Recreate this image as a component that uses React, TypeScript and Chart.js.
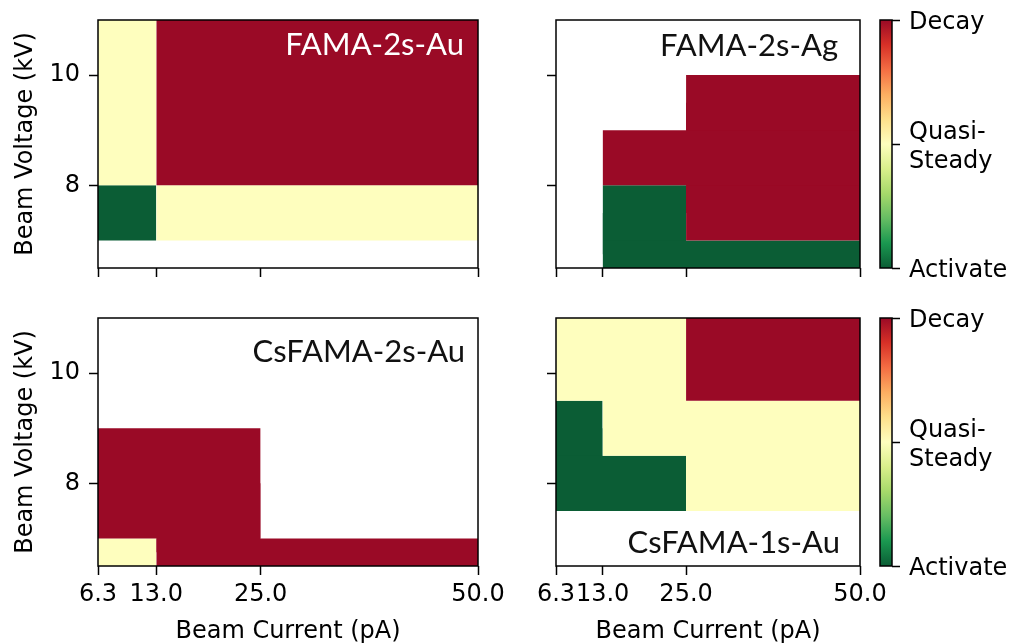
import React, { useEffect, useRef } from 'react';
import { Chart, registerables } from 'chart.js';

Chart.register(...registerables);

// ---------- data ----------
const CURRENT_EDGES = [6.3, 13.0, 25.0, 50.0]; // beam current bin edges (pA)
const CURRENT_TICKS = [6.3, 13.0, 25.0, 50.0];
const VOLTAGE_TICKS = [8, 10];
const VOLTAGE_MIN = 6.5;
const VOLTAGE_MAX = 11;

// state codes: 1 = Decay, 0 = Quasi-Steady, -1 = Activate, null = no data
const STATE_VALUES = [-1, 0, 1];
const STATE_TICK_LABELS = ['Activate', ['Quasi-', 'Steady'], 'Decay'];

// FAMA-2s-Au : voltage rows [low, high] and states per current bin
const FAMA_2S_AU_ROWS = [[8, 11], [7, 8]];
const FAMA_2S_AU_STATES = [[0, 1, 1], [-1, 0, 0]];

// FAMA-2s-Ag
const FAMA_2S_AG_ROWS = [[9, 10], [8, 9], [7, 8], [6.5, 7]];
const FAMA_2S_AG_STATES = [[null, null, 1], [null, 1, 1], [null, -1, 1], [null, -1, -1]];

// CsFAMA-2s-Au
const CSFAMA_2S_AU_ROWS = [[7, 9], [6.5, 7]];
const CSFAMA_2S_AU_STATES = [[1, 1, null], [0, 1, 1]];

// CsFAMA-1s-Au
const CSFAMA_1S_AU_ROWS = [[9.5, 11], [8.5, 9.5], [7.5, 8.5]];
const CSFAMA_1S_AU_STATES = [[0, 0, 1], [-1, 0, 0], [-1, -1, 0]];

// ---------- styles ----------
const STATE_COLORS: Record<string, string> = {
  '-1': '#0b5d35',
  '0': '#fefebe',
  '1': '#9a0a26',
};
const CMAP_STOPS = [
  '#0b5d35', '#1a9850', '#66bd63', '#a6d96a', '#d9ef8b', '#fefebe',
  '#fee08b', '#fdae61', '#f46d43', '#d73027', '#9a0a26',
];

Chart.defaults.font.family = "'DejaVu Sans', sans-serif";
Chart.defaults.font.size = 24;
Chart.defaults.color = '#000';

const framePlugin = {
  id: 'frame',
  afterDraw(chart: any) {
    const { ctx, chartArea: a } = chart;
    ctx.save();
    ctx.strokeStyle = '#000';
    ctx.lineWidth = 1.5;
    ctx.strokeRect(a.left, a.top, a.right - a.left, a.bottom - a.top);
    ctx.restore();
  },
};

function rectDataset(x0: number, x1: number, y0: number, y1: number, s: number) {
  return {
    data: [
      { x: x0, y: y1 },
      { x: x1, y: y1 },
    ],
    fill: { value: y0 },
    backgroundColor: STATE_COLORS[String(s)],
    borderColor: 'rgba(0,0,0,0)',
    borderWidth: 0,
    pointRadius: 0,
    tension: 0,
  };
}

// Cells are drawn as horizontal runs of equal state; where two same-state
// cells sit on top of each other, a patch spanning the middles of both
// rows covers their shared edge so no seam shows.
function buildCellDatasets(rows: number[][], states: (number | null)[][]) {
  const ds: any[] = [];
  rows.forEach((row, r) => {
    const st = states[r];
    let i = 0;
    while (i < st.length) {
      const s = st[i];
      let j = i;
      while (j + 1 < st.length && st[j + 1] === s) j++;
      if (s !== null) ds.push(rectDataset(CURRENT_EDGES[i], CURRENT_EDGES[j + 1], row[0], row[1], s));
      i = j + 1;
    }
  });
  for (let r = 0; r + 1 < rows.length; r++) {
    if (rows[r][0] !== rows[r + 1][1]) continue;
    const midUpper = (rows[r][0] + rows[r][1]) / 2;
    const midLower = (rows[r + 1][0] + rows[r + 1][1]) / 2;
    states[r].forEach((s, i) => {
      if (s !== null && states[r + 1][i] === s) {
        ds.push(rectDataset(CURRENT_EDGES[i], CURRENT_EDGES[i + 1], midLower, midUpper, s));
      }
    });
  }
  return ds;
}

type PanelProps = {
  label: string;
  labelColor: string;
  labelPos: [number, number]; // axes fraction: right edge, baseline from bottom
  rows: number[][];
  states: (number | null)[][];
  showX: boolean;
  showY: boolean;
  left: number;
  top: number;
  width: number;
  height: number;
  padTop: number;
  padRight: number;
  yAxisWidth: number;
  xAxisHeight: number;
};

function Panel(p: PanelProps) {
  const ref = useRef<HTMLCanvasElement>(null);
  useEffect(() => {
    const labelPlugin = {
      id: 'panelLabel',
      afterDraw(chart: any) {
        const { ctx, chartArea: a } = chart;
        ctx.save();
        ctx.font = "31px Lato, 'Noto Sans', sans-serif";
        ctx.fillStyle = p.labelColor;
        ctx.textAlign = 'right';
        ctx.textBaseline = 'alphabetic';
        const x = a.left + p.labelPos[0] * (a.right - a.left);
        const y = a.bottom - p.labelPos[1] * (a.bottom - a.top);
        ctx.fillText(p.label, x, y);
        ctx.restore();
      },
    };
    const chart = new Chart(ref.current!, {
      type: 'line',
      data: { datasets: buildCellDatasets(p.rows, p.states) },
      plugins: [framePlugin, labelPlugin],
      options: {
        responsive: false,
        animation: false,
        events: [],
        layout: { padding: { top: p.padTop, right: p.padRight, left: 0, bottom: 0 } },
        plugins: { legend: { display: false }, tooltip: { enabled: false } },
        scales: {
          x: {
            type: 'linear',
            bounds: 'data',
            min: CURRENT_EDGES[0],
            max: CURRENT_EDGES[CURRENT_EDGES.length - 1],
            afterBuildTicks: (s: any) => {
              s.ticks = CURRENT_TICKS.map((v) => ({ value: v }));
            },
            afterFit: (s: any) => {
              s.height = p.xAxisHeight;
            },
            ticks: {
              display: p.showX,
              autoSkip: false,
              maxRotation: 0,
              minRotation: 0,
              padding: 5,
              color: '#000',
              font: { size: 24 },
              callback: (v: any) => Number(v).toFixed(1),
            },
            grid: {
              display: true,
              drawOnChartArea: false,
              drawTicks: true,
              tickLength: 9,
              tickWidth: 1.5,
              tickColor: '#000',
            },
            border: { display: false },
            title: {
              display: p.showX,
              text: 'Beam Current (pA)',
              color: '#000',
              font: { size: 24 },
              padding: { top: 0, bottom: 0 },
            },
          },
          y: {
            type: 'linear',
            bounds: 'data',
            min: VOLTAGE_MIN,
            max: VOLTAGE_MAX,
            afterBuildTicks: (s: any) => {
              s.ticks = VOLTAGE_TICKS.map((v) => ({ value: v }));
            },
            afterFit: (s: any) => {
              s.width = p.yAxisWidth;
            },
            ticks: {
              display: p.showY,
              padding: 9,
              color: '#000',
              font: { size: 24 },
              callback: (v: any) => String(v),
            },
            grid: {
              display: true,
              drawOnChartArea: false,
              drawTicks: true,
              tickLength: 9,
              tickWidth: 1.5,
              tickColor: '#000',
            },
            border: { display: false },
            title: {
              display: p.showY,
              text: 'Beam Voltage (kV)',
              color: '#000',
              font: { size: 24 },
              padding: { top: 11, bottom: 0 },
            },
          },
        },
      } as any,
    });
    return () => chart.destroy();
  }, []);
  return (
    <canvas
      ref={ref}
      width={p.width}
      height={p.height}
      style={{ position: 'absolute', left: p.left, top: p.top, width: p.width, height: p.height }}
    />
  );
}

type ColorbarProps = { left: number; top: number; width: number; height: number; padTop: number; padBottom: number };

function Colorbar(p: ColorbarProps) {
  const ref = useRef<HTMLCanvasElement>(null);
  useEffect(() => {
    const chart = new Chart(ref.current!, {
      type: 'bar',
      data: {
        labels: [''],
        datasets: [
          {
            data: [[STATE_VALUES[0], STATE_VALUES[STATE_VALUES.length - 1]]],
            backgroundColor: (c: any) => {
              const a = c.chart.chartArea;
              if (!a) return '#fefebe';
              const g = c.chart.ctx.createLinearGradient(0, a.bottom, 0, a.top);
              CMAP_STOPS.forEach((col, i) => g.addColorStop(i / (CMAP_STOPS.length - 1), col));
              return g;
            },
            borderWidth: 0,
            barPercentage: 1,
            categoryPercentage: 1,
          } as any,
        ],
      },
      plugins: [framePlugin],
      options: {
        responsive: false,
        animation: false,
        events: [],
        layout: { padding: { top: p.padTop, bottom: p.padBottom, left: 20, right: 0 } },
        plugins: { legend: { display: false }, tooltip: { enabled: false } },
        scales: {
          x: { display: false },
          y: {
            position: 'right',
            min: -1,
            max: 1,
            afterBuildTicks: (s: any) => {
              s.ticks = STATE_VALUES.map((v) => ({ value: v }));
            },
            afterFit: (s: any) => {
              s.width = 122;
            },
            ticks: {
              padding: 9,
              labelOffset: 3,
              color: '#000',
              font: { size: 24 },
              callback: (v: any) => STATE_TICK_LABELS[STATE_VALUES.indexOf(Number(v))] as any,
            },
            grid: {
              display: true,
              drawOnChartArea: false,
              drawTicks: true,
              tickLength: 8,
              tickWidth: 1.5,
              tickColor: '#000',
            },
            border: { display: false },
          },
        },
      } as any,
    });
    return () => chart.destroy();
  }, []);
  return (
    <canvas
      ref={ref}
      width={p.width}
      height={p.height}
      style={{ position: 'absolute', left: p.left, top: p.top, width: p.width, height: p.height }}
    />
  );
}

const TOP_ROW = { top: -20, height: 320, padTop: 40, xAxisHeight: 32 };
const BOTTOM_ROW = { top: 290, height: 356, padTop: 28, xAxisHeight: 80 };
const LEFT_COL = { left: 0, width: 520, padRight: 42, yAxisWidth: 98, showY: true };
const RIGHT_COL = { left: 500, width: 400, padRight: 40, yAxisWidth: 56, showY: false };

export default function App() {
  return (
    <div
      style={{
        position: 'absolute',
        left: 0,
        top: 0,
        width: 1014,
        height: 644,
        overflow: 'hidden',
        background: '#fff',
      }}
    >
      <Panel
        label="FAMA-2s-Au"
        labelColor="#ffffff"
        labelPos={[0.963, 0.859]}
        rows={FAMA_2S_AU_ROWS}
        states={FAMA_2S_AU_STATES}
        showX={false}
        {...TOP_ROW}
        {...LEFT_COL}
      />
      <Panel
        label="FAMA-2s-Ag"
        labelColor="#111111"
        labelPos={[0.928, 0.855]}
        rows={FAMA_2S_AG_ROWS}
        states={FAMA_2S_AG_STATES}
        showX={false}
        {...TOP_ROW}
        {...RIGHT_COL}
      />
      <Panel
        label="CsFAMA-2s-Au"
        labelColor="#111111"
        labelPos={[0.966, 0.823]}
        rows={CSFAMA_2S_AU_ROWS}
        states={CSFAMA_2S_AU_STATES}
        showX={true}
        {...BOTTOM_ROW}
        {...LEFT_COL}
      />
      <Panel
        label="CsFAMA-1s-Au"
        labelColor="#111111"
        labelPos={[0.934, 0.052]}
        rows={CSFAMA_1S_AU_ROWS}
        states={CSFAMA_1S_AU_STATES}
        showX={true}
        {...BOTTOM_ROW}
        {...RIGHT_COL}
      />
      <Colorbar left={860} top={-20} width={154} height={320} padTop={40} padBottom={32} />
      <Colorbar left={860} top={290} width={154} height={356} padTop={28} padBottom={80} />
    </div>
  );
}
